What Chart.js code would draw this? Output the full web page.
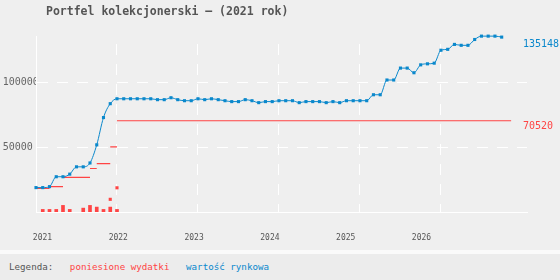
<!DOCTYPE html>
<html>
<head>
<meta charset="utf-8">
<script src="https://cdn.jsdelivr.net/npm/chart.js@4"></script>
<style>
  body { margin: 0; background: #efefef; }
  #wrap { width: 560px; height: 280px; overflow: hidden; }
  canvas { display: block; background: #efefef; }
  #legend {
    border-top: 4px solid #fafafa;
    background: #ececec;
    height: 26px;
    padding-left: 9px;
    font: 9.2px "DejaVu Sans Mono", monospace;
    line-height: 26px;
    white-space: pre;
    color: #555;
  }
</style>
</head>
<body>
<div id="wrap">
  <canvas id="chart" width="560" height="250"></canvas>
  <div id="legend">Legenda:   <span style="color:#ff4444">poniesione wydatki</span>   <span style="color:#0a88cc">wartość rynkowa</span></div>
</div>
<script>
// months counted from Jan 2021 (0)
var marketValue = [
    18850, 18850, 19600, 27250, 27250, 29250, 34900, 34900, 37900, 51900, 73000, 83700,
    87500, 87500, 87500, 87500, 87500, 87500, 86800, 86800, 88300, 86800, 86000, 86000,
    87500, 86800, 87500, 86800, 86000, 85300, 85300, 86800, 86000, 84500, 85300, 85300,
    86000, 86000, 86000, 84500, 85300, 85300, 85300, 84500, 85300, 84500, 86000, 86000,
    86000, 86000, 90600, 90600, 102000, 102000, 111200, 111200, 107600, 113700, 114500, 115000,
    125000, 125700, 129500, 128800, 128800, 133300, 135900, 135900, 135900, 135148
];

// cumulative expenses, drawn as flat steps
var costFrom = [0, 2, 4, 8, 9, 11, 12];
var costTo = [2, 4, 8, 9, 11, 12, 70.4];
var costTotal = [18300, 19600, 26700, 33600, 37400, 50400, 70520];

// monthly expenses
var spendMonth = [1, 2, 3, 4, 5, 7, 8, 9, 10, 11, 12];
var spendValue = [2000, 2000, 2000, 5100, 2000, 3000, 5100, 3800, 2000, 3800, 2000];

var extraMonth = [11, 12];
var extraValue = [9800, 18700];

var yearTicks = [2021, 2022, 2023, 2024, 2025, 2026];
var yearGrid = [12, 24, 36, 48, 60];
var valueTicks = [50000, 100000];

var RED = '#ff4444';
var BLUE = '#0a88cc';

var stepPoints = [];
for (var i = 0; i < costTotal.length; i++) {
    stepPoints.push({x: costFrom[i], y: costTotal[i]});
    stepPoints.push({x: costTo[i], y: costTotal[i]});
    stepPoints.push({x: costTo[i], y: null});
}

Chart.defaults.font.family = '"DejaVu Sans Mono", monospace';

var extras = {
    id: 'extras',
    afterDatasetsDraw: function(chart) {
        var ctx = chart.ctx;
        var y = chart.scales.y;
        ctx.save();
        ctx.textBaseline = 'middle';
        ctx.textAlign = 'left';
        ctx.font = 'bold 11.5px "DejaVu Sans Mono", monospace';
        ctx.fillStyle = '#555';
        ctx.fillText('Portfel kolekcjonerski – (2021 rok)', 46, 12);
        ctx.font = '10px "DejaVu Sans Mono", monospace';
        var lastValue = marketValue[marketValue.length - 1];
        var lastCost = costTotal[costTotal.length - 1];
        ctx.fillStyle = BLUE;
        ctx.fillText(String(lastValue), chart.chartArea.right - 4, y.getPixelForValue(lastValue) + 7);
        ctx.fillStyle = RED;
        ctx.fillText(String(lastCost), chart.chartArea.right - 4, y.getPixelForValue(lastCost) + 6);
        ctx.restore();
    }
};

var ctx = document.getElementById('chart').getContext('2d');
var myChart = new Chart(ctx, {
    type: 'line',
    data: {
        datasets: [{
            label: 'wartość rynkowa',
            data: marketValue.map(function(v, i) { return {x: i, y: v}; }),
            borderColor: BLUE,
            backgroundColor: BLUE,
            borderWidth: 1,
            pointStyle: 'rect',
            pointRadius: 2.2,
            pointBorderWidth: 0,
            cubicInterpolationMode: 'monotone',
            clip: 5,
            order: 0
        }, {
            label: 'suma wydatków',
            data: stepPoints,
            borderColor: RED,
            borderWidth: 1.2,
            pointRadius: 0,
            spanGaps: false,
            order: 1
        }, {
            type: 'bar',
            label: 'poniesione wydatki',
            data: spendMonth.map(function(m, i) { return {x: m, y: spendValue[i]}; }),
            backgroundColor: RED,
            barThickness: 3,
            grouped: false,
            order: 2
        }, {
            type: 'scatter',
            label: 'dodatkowe',
            data: extraMonth.map(function(m, i) { return {x: m, y: extraValue[i]}; }),
            backgroundColor: RED,
            pointStyle: 'rect',
            pointRadius: 2.2,
            pointBorderWidth: 0,
            showLine: false,
            order: 2
        }]
    },
    options: {
        responsive: false,
        animation: false,
        layout: {padding: {top: 36, left: 2.7, right: 33, bottom: 5}},
        plugins: {legend: {display: false}, tooltip: {enabled: false}, title: {display: false}},
        scales: {
            x: {
                type: 'linear',
                min: 0,
                max: 72.75,
                offset: false,
                weight: 0,
                afterBuildTicks: function(s) { s.ticks = yearGrid.map(function(v) { return {value: v}; }); },
                afterFit: function(s) { s.height = 21; },
                grid: {color: '#ffffff', lineWidth: 1, drawTicks: false, offset: false},
                border: {display: true, color: '#ffffff', width: 1, dash: [11, 9], dashOffset: 12},
                ticks: {display: false}
            },
            yr: {
                type: 'linear',
                position: 'bottom',
                axis: 'x',
                min: 2020.9142,
                max: 2027.392,
                weight: 1,
                afterBuildTicks: function(s) { s.ticks = yearTicks.map(function(v) { return {value: v}; }); },
                afterFit: function(s) { s.height = 12; },
                grid: {display: false, drawTicks: false},
                border: {display: false},
                ticks: {
                    padding: 0,
                    color: '#555',
                    font: {size: 8},
                    callback: function(v) { return String(v); }
                }
            },
            y: {
                min: 0,
                max: 136000,
                afterBuildTicks: function(s) { s.ticks = valueTicks.map(function(v) { return {value: v}; }); },
                afterFit: function(s) { s.width = 33.3; },
                grid: {color: '#ffffff', lineWidth: 1, drawTicks: false},
                border: {display: true, color: '#ffffff', width: 1, dash: [11, 9], dashOffset: 0},
                ticks: {
                    crossAlign: 'far',
                    padding: 0,
                    color: '#666',
                    font: {size: 10},
                    callback: function(v) { return String(v); }
                }
            }
        }
    },
    plugins: [extras]
});
</script>
</body>
</html>
